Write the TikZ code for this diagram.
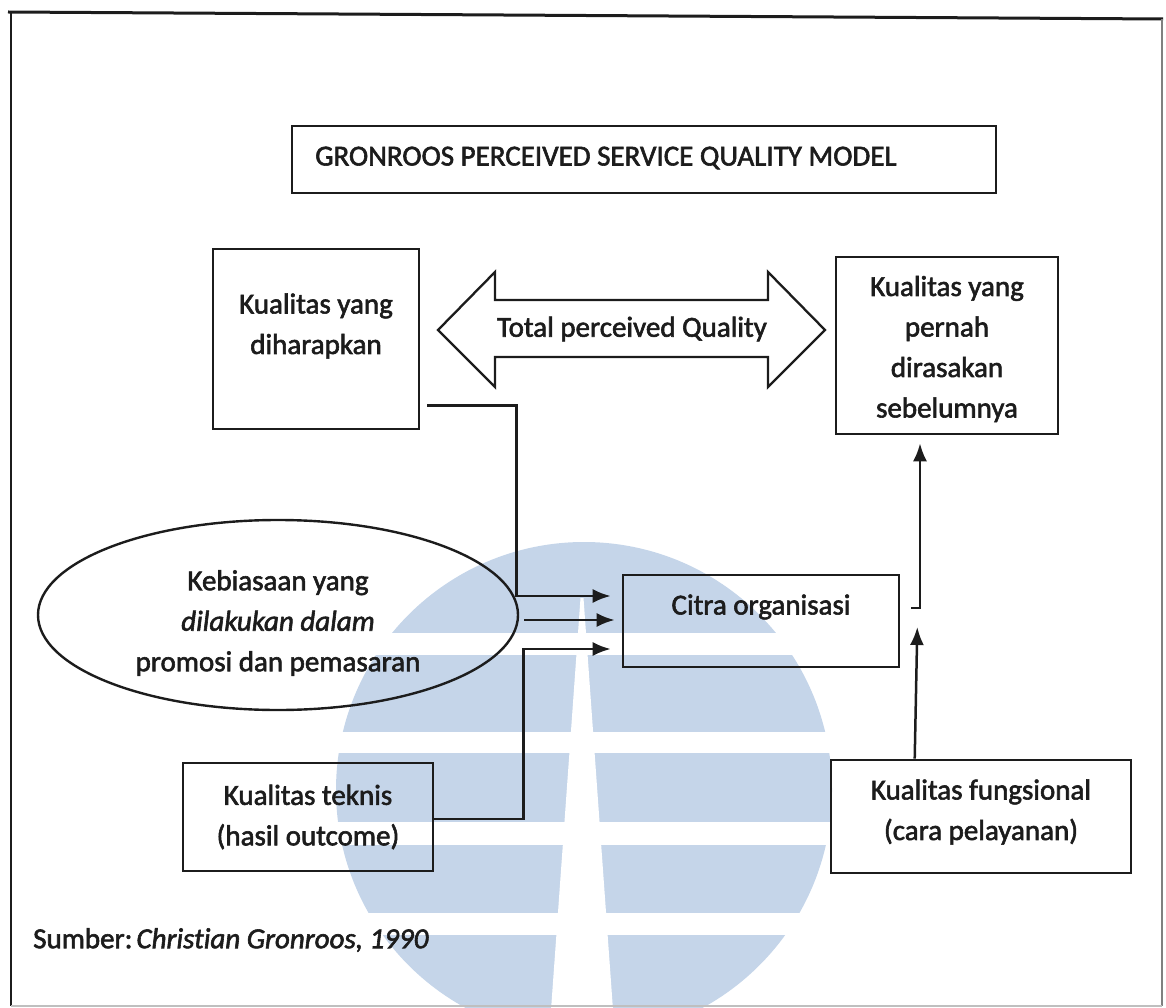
\documentclass[tikz,border=0pt]{standalone}
\usepackage{fontspec}
\setmainfont{Carlito}[Ligatures=NoCommon,UprightFeatures={FakeBold=2},ItalicFeatures={FakeBold=2}]
\usetikzlibrary{arrows.meta,calc,shapes.geometric}
\definecolor{wm}{RGB}{197,213,233}
\definecolor{ink}{RGB}{28,28,28}
\begin{document}
\begin{tikzpicture}[x=1pt,y=1pt,
  box/.style={draw=ink,line width=2.6pt,inner sep=0pt},
  txt/.style={font=\fontsize{29}{40.5}\selectfont,align=center,inner sep=0pt,text=ink},
  arr/.style={draw=ink,line width=2.5pt,-{Latex[length=18pt,width=14pt]}}]
\useasboundingbox (0,0) rectangle (1166,-1008);
% watermark
\begin{scope}
  \clip (0,0) rectangle (1166,-1008);
  \fill[wm] (584,-790) circle (248pt);
  \fill[white] (300,-633) rectangle (900,-655);
  \fill[white] (300,-732) rectangle (900,-753);
  \fill[white] (300,-822) rectangle (900,-845);
  \fill[white] (300,-913) rectangle (900,-935);
  \fill[white] (580.5,-598) -- (583.5,-598) -- (613,-1010) -- (551,-1010) -- cycle;
\end{scope}
% frame
\draw[ink,line width=3pt] (8,-12) -- (1163,-19);
\draw[ink,line width=2.2pt] (11,-12) -- (11,-1006);
\draw[gray,line width=1.5pt] (1162,-19) -- (1162,-1006);
\draw[gray!50,line width=1.2pt] (11,-1006) -- (1162,-1006);
% title
\node[box,minimum width=704pt,minimum height=67pt] (title) at (644,-159.5) {};
\node[txt] (titletext) at (606,-158) {GRONROOS PERCEIVED SERVICE QUALITY MODEL};
% boxes
\node[box,minimum width=206pt,minimum height=180pt] (b1) at (316,-339) {};
\node[txt] (b1t) at (316,-326) {Kualitas yang\\diharapkan};
\node[box,minimum width=222pt,minimum height=177pt] (pernah) at (947,-345.5) {};
\node[txt] (pernaht) at (947,-349) {Kualitas yang\\pernah\\dirasakan\\sebelumnya};
\node[draw=ink,line width=2.4pt,ellipse,inner sep=0pt,minimum width=480pt,minimum height=190pt] (ell) at (278,-615) {};
\node[txt] (ellt) at (278,-623) {Kebiasaan yang\\\textit{dilakukan dalam}\\promosi dan pemasaran};
\node[box,minimum width=276pt,minimum height=92pt] (citra) at (761,-621) {};
\node[txt] (citrat) at (761,-607) {Citra organisasi};
\node[box,minimum width=250pt,minimum height=108pt] (tek) at (308,-817) {};
\node[txt] (tekt) at (308,-817) {Kualitas teknis\\(hasil outcome)};
\node[box,minimum width=300pt,minimum height=113pt] (fung) at (981,-816.5) {};
\node[txt] (fungt) at (981,-812) {Kualitas fungsional\\(cara pelayanan)};
% double arrow
\draw[ink,line width=2.3pt,line join=miter] (438,-330) -- (495,-272) -- (495,-300) -- (768,-300) -- (768,-272) -- (825,-330) -- (768,-387) -- (768,-357) -- (495,-357) -- (495,-387) -- cycle;
\node[txt] (tpq) at (632,-329) {Total perceived Quality};
% connectors
\draw[arr] ($(b1.south east)+(7,25)$) -| ($(citra.west)+(-105,25)$) -- ($(citra.west)+(-11,25)$);
\draw[arr] ($(ell.east)+(5,-5)$) -- ($(citra.west)+(-7,1)$);
\draw[arr] ($(tek.east)+(0,-2)$) -| ($(citra.west)+(-98,-28)$) -- ($(citra.west)+(-11,-28)$);
\draw[arr] ($(citra.east)+(11,13)$) -| ($(pernah.south)+(-27,-8)$);
\draw[arr] ($(fung.north west)+(85,0)$) -- ($(citra.east)+(17,-6)$);
% source
\node[txt,anchor=west] (src) at (33,-940) {Sumber:\kern4pt\textit{Christian Gronroos, 1990}};
\end{tikzpicture}
\end{document}
